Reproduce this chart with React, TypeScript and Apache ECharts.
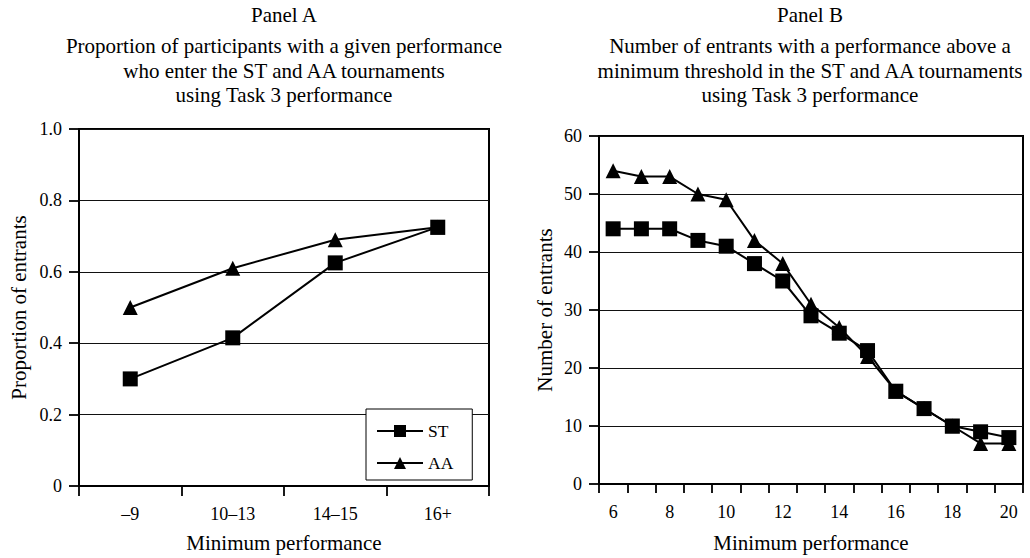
import React, { useEffect, useRef } from "react";
import * as echarts from "echarts";

const FONT = '"Liberation Serif", "Times New Roman", serif';

// Panel A
const categoriesA = ["\u20139", "10\u201313", "14\u201315", "16+"];
const stA = [0.3, 0.415, 0.625, 0.725];
const aaA = [0.5, 0.61, 0.69, 0.725];

// Panel B
const categoriesB = ["6", "7", "8", "9", "10", "11", "12", "13", "14", "15", "16", "17", "18", "19", "20"];
const stB = [44, 44, 44, 42, 41, 38, 35, 29, 26, 23, 16, 13, 10, 9, 8];
const aaB = [54, 53, 53, 50, 49, 42, 38, 31, 27, 22, 16, 13, 10, 7, 7];

const titleA = [
  "Panel A",
  "Proportion of participants with a given performance",
  "who enter the ST and AA tournaments",
  "using Task 3 performance",
];
const titleB = [
  "Panel B",
  "Number of entrants with a performance above a",
  "minimum threshold in the ST and AA tournaments",
  "using Task 3 performance",
];

const xNameA = "Minimum performance";
const yNameA = "Proportion of entrants";
const xNameB = "Minimum performance";
const yNameB = "Number of entrants";

const titleYs = [15, 46, 71, 95];

function titleTexts(lines: string[], cx: number) {
  return lines.map((t, i) => ({
    type: "text",
    x: cx,
    y: titleYs[i],
    style: {
      text: t,
      font: `21px ${FONT}`,
      fill: "#000",
      align: "center",
      verticalAlign: "middle",
    },
  }));
}

export default function App() {
  const ref = useRef<HTMLDivElement>(null);
  useEffect(() => {
    if (!ref.current) return;
    const chart = echarts.init(ref.current, undefined, { renderer: "svg" });
    const labelStyle = { fontFamily: FONT, fontSize: 18, color: "#000" };
    const nameStyle = { fontFamily: FONT, fontSize: 21, color: "#000" };
    const axisLine = { show: true, lineStyle: { color: "#000", width: 2 } };
    const axisTick = { show: true, inside: false, length: 10, lineStyle: { color: "#000", width: 1.8 } };
    const splitLine = { show: true, lineStyle: { color: "#111", width: 1.2 } };
    const lineStyle = { color: "#000", width: 2 };
    const itemStyle = { color: "#000" };

    chart.setOption({
      animation: false,
      backgroundColor: "#fff",
      graphic: [...titleTexts(titleA, 284), ...titleTexts(titleB, 810)],
      grid: [
        { left: 79, right: 541, top: 129, bottom: 71, show: true, borderColor: "#000", borderWidth: 2 },
        { left: 599, right: 7, top: 136, bottom: 73, show: true, borderColor: "#000", borderWidth: 2 },
      ],
      legend: {
        data: ["ST", "AA"],
        left: 366,
        top: 409,
        orient: "vertical",
        itemWidth: 46,
        itemHeight: 15,
        itemGap: 14,
        padding: [13, 19, 8, 10],
        borderColor: "#000",
        borderWidth: 1,
        borderRadius: 0,
        backgroundColor: "#fff",
        textStyle: { fontFamily: FONT, fontSize: 17.5, color: "#000" },
        z: 10,
      },
      xAxis: [
        {
          type: "category",
          gridIndex: 0,
          data: categoriesA,
          boundaryGap: true,
          axisLine,
          axisTick,
          axisLabel: { ...labelStyle, margin: 19 },
          splitLine: { show: false },
          name: xNameA,
          nameLocation: "middle",
          nameGap: 46,
          nameTextStyle: nameStyle,
        },
        {
          type: "category",
          gridIndex: 1,
          data: categoriesB,
          boundaryGap: true,
          axisLine,
          axisTick: { ...axisTick, length: 9, interval: 0 },
          axisLabel: { ...labelStyle, margin: 19, interval: 1 },
          splitLine: { show: false },
          name: xNameB,
          nameLocation: "middle",
          nameGap: 48,
          nameTextStyle: nameStyle,
        },
      ],
      yAxis: [
        {
          type: "value",
          gridIndex: 0,
          min: 0,
          max: 1,
          interval: 0.2,
          axisLine,
          axisTick,
          axisLabel: {
            ...labelStyle,
            margin: 17,
            formatter: (v: number) => (v === 0 ? "0" : v.toFixed(1)),
          },
          splitLine,
          name: yNameA,
          nameLocation: "middle",
          nameGap: 50,
          nameTextStyle: nameStyle,
        },
        {
          type: "value",
          gridIndex: 1,
          min: 0,
          max: 60,
          interval: 10,
          axisLine,
          axisTick,
          axisLabel: { ...labelStyle, margin: 17 },
          splitLine,
          name: yNameB,
          nameLocation: "middle",
          nameGap: 44,
          nameTextStyle: nameStyle,
        },
      ],
      series: [
        {
          name: "AA",
          type: "line",
          xAxisIndex: 0,
          yAxisIndex: 0,
          data: aaA,
          symbol: "triangle",
          symbolSize: 15,
          lineStyle,
          itemStyle,
        },
        {
          name: "ST",
          type: "line",
          xAxisIndex: 0,
          yAxisIndex: 0,
          data: stA,
          symbol: "rect",
          symbolSize: 15,
          lineStyle,
          itemStyle,
        },
        {
          name: "AA",
          type: "line",
          xAxisIndex: 1,
          yAxisIndex: 1,
          data: aaB,
          symbol: "triangle",
          symbolSize: 15,
          lineStyle,
          itemStyle,
        },
        {
          name: "ST",
          type: "line",
          xAxisIndex: 1,
          yAxisIndex: 1,
          data: stB,
          symbol: "rect",
          symbolSize: 15,
          lineStyle,
          itemStyle,
        },
      ],
    });
    return () => chart.dispose();
  }, []);
  return (
    <div
      ref={ref}
      style={{ position: "fixed", left: 0, top: 0, width: 1030, height: 558, background: "#fff" }}
    />
  );
}
